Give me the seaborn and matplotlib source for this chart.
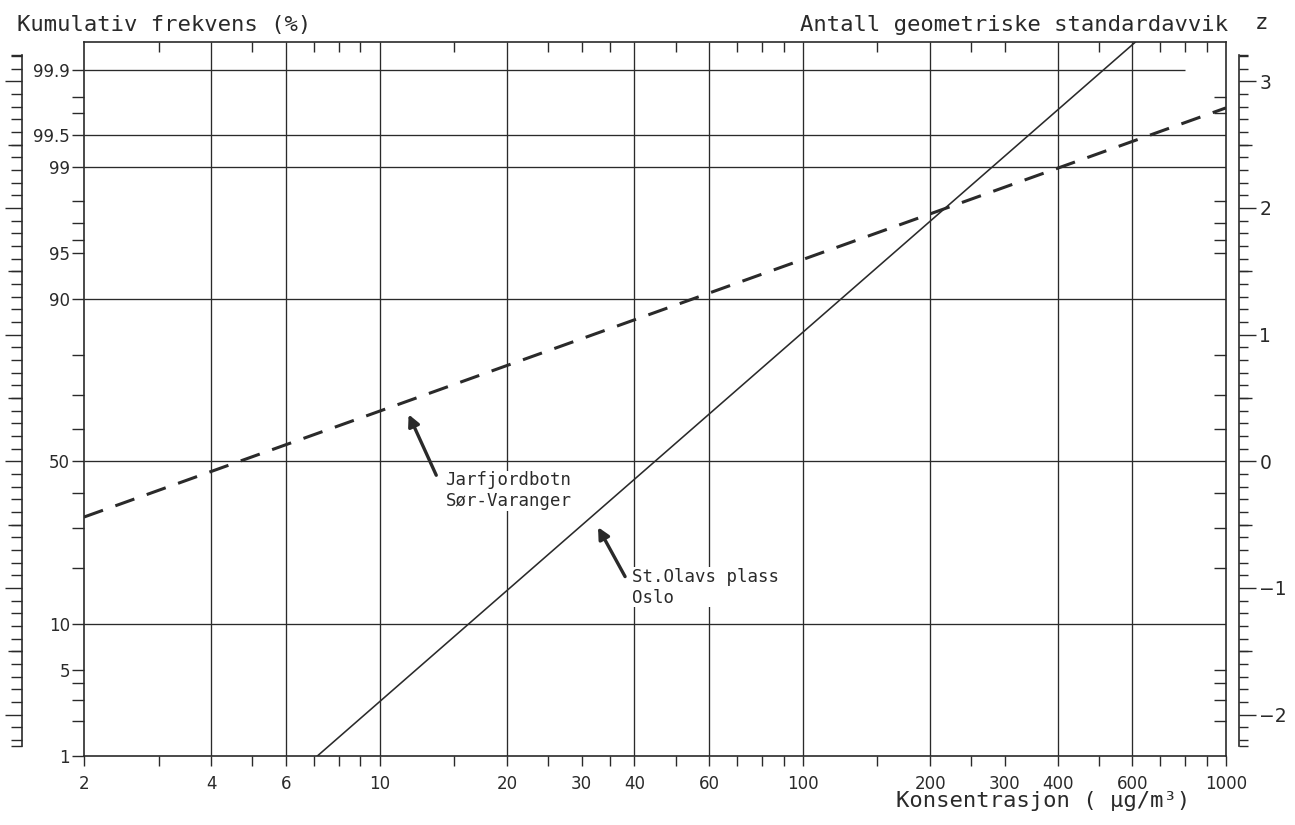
import matplotlib
matplotlib.use("Agg")
import matplotlib.pyplot as plt
import matplotlib.ticker as mticker
import numpy as np
import pandas as pd
import seaborn as sns
from statistics import NormalDist

# ---------------- data ----------------
# lines given in z units (number of geometric standard deviations)
oslo_conc = [7.1, 611]
oslo_z = [-2.33, 3.31]
jarf_conc = [2, 1000]
jarf_z = [-0.44, 2.79]

x_label_vals = [2, 4, 6, 10, 20, 30, 40, 60, 100, 200, 300, 400, 600, 1000]
x_label_text = ["2", "4", "6", "10", "20", "30", "40", "60", "100", "200", "300", "400", "600", "1000"]
x_grid_vals = [4, 6, 10, 20, 40, 60, 100, 200, 400, 600]
x_minor_vals = [3, 5, 7, 8, 9, 15, 25, 30, 35, 50, 70, 80, 90, 150, 250, 300, 500, 700, 800, 900]

pct_label_vals = [1, 5, 10, 50, 90, 95, 99, 99.5, 99.9]
pct_label_text = ["1", "5", "10", "50", "90", "95", "99", "99.5", "99.9"]
pct_grid_vals = [10, 50, 90, 99, 99.5, 99.9]
pct_grid_end = [1000, 1000, 1000, 1000, 1000, 800]
pct_minor_vals = [2, 3, 4, 20, 30, 40, 60, 70, 80, 96, 97, 98, 99.7, 99.8]

z_label_vals = [-2, -1, 0, 1, 2, 3]
z_label_text = ["\u22122", "\u22121", "0", "1", "2", "3"]
z_half_vals = [-1.5, -0.5, 0.5, 1.5, 2.5]

jarf_label = "Jarfjordbotn\nSør-Varanger"
oslo_label = "St.Olavs plass\nOslo"

# ---------------- style ----------------
sns.set_style("white")
plt.rcParams["font.family"] = ["DejaVu Sans"]
ink = "#2a2a2a"
plt.rcParams["text.color"] = ink
plt.rcParams["axes.edgecolor"] = ink
plt.rcParams["xtick.color"] = ink
plt.rcParams["ytick.color"] = ink
wide = ["DejaVu Sans Mono", "DejaVu Sans"]

nd = NormalDist()
def zf(p):
    return nd.inv_cdf(p / 100.0)

W, H = 1295, 825
fig = plt.figure(figsize=(W / 100, H / 100), dpi=100)
L, R, T, B = 84, 1226, 42, 756
ax = fig.add_axes([L / W, 1 - B / H, (R - L) / W, (B - T) / H])
ylo, yhi = zf(1), 3.31

# ---------------- main lines ----------------
df = pd.DataFrame({
    "conc": oslo_conc + jarf_conc,
    "z": oslo_z + jarf_z,
    "site": ["Oslo"] * len(oslo_conc) + ["Jarfjordbotn"] * len(jarf_conc),
})
sns.lineplot(data=df[df.site == "Oslo"], x="conc", y="z", ax=ax, color=ink,
             linewidth=1.15, legend=False, zorder=3)
sns.lineplot(data=df[df.site == "Jarfjordbotn"], x="conc", y="z", ax=ax, color=ink,
             linewidth=2.2, legend=False, zorder=3)
ax.lines[-1].set_dashes([6.6, 4.3])
ax.lines[-1].set_dash_capstyle("butt")

ax.set_xscale("log")
ax.set_xlim(2, 1000)
ax.set_ylim(ylo, yhi)
ax.set_xlabel("")
ax.set_ylabel("")

# grid
ax.vlines(x_grid_vals, ylo, yhi, colors=ink, linewidth=0.95, zorder=1)
for p, xe in zip(pct_grid_vals, pct_grid_end):
    ax.hlines(zf(p), 2, xe, colors=ink, linewidth=0.95, zorder=1)

for s in ax.spines.values():
    s.set_linewidth(1.2)
    s.set_color(ink)

# x ticks (bottom, outward)
ax.xaxis.set_major_locator(mticker.FixedLocator(x_label_vals))
ax.xaxis.set_major_formatter(mticker.FixedFormatter(x_label_text))
ax.xaxis.set_minor_locator(mticker.FixedLocator(x_minor_vals))
ax.xaxis.set_minor_formatter(mticker.NullFormatter())
ax.tick_params(axis="x", which="both", direction="out", length=7, width=1.0,
               top=False, bottom=True, labelsize=12, pad=7)

# y ticks (left, outward)
ax.yaxis.set_major_locator(mticker.FixedLocator([zf(p) for p in pct_label_vals]))
ax.yaxis.set_major_formatter(mticker.FixedFormatter(pct_label_text))
ax.yaxis.set_minor_locator(mticker.FixedLocator([zf(p) for p in pct_minor_vals]))
ax.yaxis.set_minor_formatter(mticker.NullFormatter())
ax.tick_params(axis="y", which="both", direction="out", length=8.5, width=1.0,
               left=True, right=False, labelleft=True, labelright=False,
               labelsize=12, pad=1.5)

# top inside ticks + right-frame inside ticks (independent overlay axes)
pos = ax.get_position()
axt = fig.add_axes([pos.x0, pos.y0, pos.width, pos.height])
axt.patch.set_visible(False)
axt.set_xscale("log")
axt.set_xlim(2, 1000)
axt.set_ylim(ylo, yhi)
axt.xaxis.set_ticks_position("top")
axt.xaxis.set_major_locator(mticker.NullLocator())
axt.xaxis.set_minor_locator(mticker.FixedLocator(x_minor_vals))
axt.xaxis.set_minor_formatter(mticker.NullFormatter())
axt.tick_params(axis="x", which="both", direction="in", length=7, width=1.0,
                top=True, bottom=False, labeltop=False, labelbottom=False)
axt.yaxis.set_ticks_position("right")
axt.yaxis.set_major_locator(mticker.NullLocator())
axt.yaxis.set_minor_locator(mticker.FixedLocator([zf(p) for p in pct_minor_vals + [5, 95]]))
axt.yaxis.set_minor_formatter(mticker.NullFormatter())
axt.tick_params(axis="y", which="both", direction="in", length=8.5, width=1.0,
                right=True, left=False, labelright=False, labelleft=False)
for s in axt.spines.values():
    s.set_visible(False)

# ---------------- z rulers (independent thin axes) ----------------
zmin, zmax = -2.25, 3.21
z_minor = [round(v, 1) for v in np.arange(-2.2, 3.21, 0.1)] + [zmin, zmax]

def make_ruler(xpix, side, long_len, half_len, short_len, labels):
    on_right = side == "right"
    r = fig.add_axes([xpix / W, pos.y0, 0.0005, pos.height])
    r.patch.set_visible(False)
    r.set_ylim(ylo, yhi)
    r.xaxis.set_visible(False)
    for k, s in r.spines.items():
        s.set_visible(k == side)
    r.spines[side].set_bounds(zmin, zmax)
    r.spines[side].set_linewidth(1.2)
    r.yaxis.set_ticks_position(side)
    r.yaxis.set_major_locator(mticker.FixedLocator(z_label_vals))
    if labels:
        r.yaxis.set_major_formatter(mticker.FixedFormatter(z_label_text))
    else:
        r.yaxis.set_major_formatter(mticker.NullFormatter())
    r.yaxis.set_minor_locator(mticker.FixedLocator(z_minor))
    r.yaxis.set_minor_formatter(mticker.NullFormatter())
    r.tick_params(axis="y", which="major", direction="out", length=long_len, width=1.0,
                  right=on_right, left=not on_right,
                  labelright=on_right and labels, labelleft=False,
                  labelsize=13.5, pad=3)
    r.tick_params(axis="y", which="minor", direction="out", length=short_len, width=1.0,
                  right=on_right, left=not on_right)
    h = fig.add_axes([xpix / W, pos.y0, 0.0005, pos.height])
    h.patch.set_visible(False)
    h.set_ylim(ylo, yhi)
    h.xaxis.set_visible(False)
    for s in h.spines.values():
        s.set_visible(False)
    h.yaxis.set_ticks_position(side)
    h.yaxis.set_major_locator(mticker.FixedLocator(z_half_vals))
    h.yaxis.set_major_formatter(mticker.NullFormatter())
    h.yaxis.set_minor_locator(mticker.NullLocator())
    h.tick_params(axis="y", which="major", direction="out", length=half_len, width=1.0,
                  right=on_right, left=not on_right, labelright=False, labelleft=False)
    return r

make_ruler(1238, "right", 12, 9.5, 6.5, True)
make_ruler(22, "left", 12.5, 10, 8, False)

# ---------------- annotations ----------------
ax.text(14.3, -0.08, jarf_label, ha="left", va="top", fontsize=12.5, linespacing=1.2,
        family=wide, zorder=5, bbox=dict(facecolor="white", edgecolor="none", pad=0.3))
ax.annotate("", xy=(11.7, 0.37), xytext=(13.6, -0.11),
            arrowprops=dict(arrowstyle="-|>", lw=2.4, color=ink, mutation_scale=17,
                            shrinkA=0, shrinkB=0), zorder=6)
ax.text(39.5, -0.84, oslo_label, ha="left", va="top", fontsize=12.5, linespacing=1.2,
        family=wide, zorder=5, bbox=dict(facecolor="white", edgecolor="none", pad=0.3))
ax.annotate("", xy=(32.8, -0.52), xytext=(38.0, -0.91),
            arrowprops=dict(arrowstyle="-|>", lw=2.4, color=ink, mutation_scale=17,
                            shrinkA=0, shrinkB=0), zorder=6)

# ---------------- titles ----------------
fig.text(17 / W, 1 - 25 / H, "Kumulativ frekvens (%)", ha="left", va="center",
         fontsize=16, family=wide)
fig.text(1228 / W, 1 - 25 / H, "Antall geometriske standardavvik", ha="right", va="center",
         fontsize=16, family=wide)
fig.text(1261 / W, 1 - 23 / H, "z", ha="center", va="center", fontsize=16, family=wide)
fig.text(1190 / W, 1 - 801 / H, "Konsentrasjon ( μg/m³)", ha="right", va="center",
         fontsize=16, family=wide)

fig.savefig("out.png", dpi=100, facecolor="white")
